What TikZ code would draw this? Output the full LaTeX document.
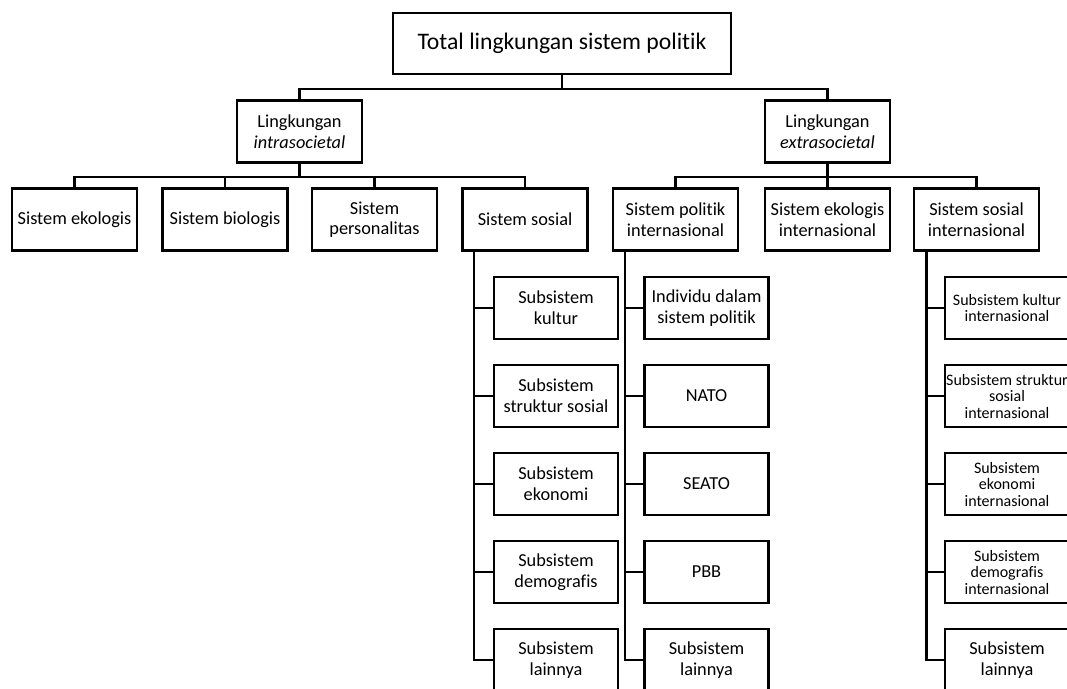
\documentclass[tikz,border=0pt]{standalone}
\usepackage{fontspec}
\setmainfont{Carlito}[Ligatures=NoCommon]

\begin{document}
\begin{tikzpicture}[x=1pt,y=-1pt,
    box/.style={draw,line width=2.5pt,align=center,inner sep=1pt,
      minimum width=125,minimum height=62,font=\fontsize{18.3}{20.7}\selectfont},
    subbox/.style={box,minimum width=124},
    small/.style={font=\fontsize{16}{16.5}\selectfont},
    link/.style={line width=2.5pt}]
    \useasboundingbox (0,0) rectangle (1067,688);
    \clip (0,0) rectangle (1067,688);
    % top and the two environments
    \node[box,minimum width=338,minimum height=61,font=\fontsize{23.7}{28}\selectfont] (T) at (562,43.5) {Total lingkungan sistem politik};
    \node[box] (L1) at (299.5,131.5) {Lingkungan\\\textit{intrasocietal}};
    \node[box] (L2) at (827.5,131.5) {Lingkungan\\\textit{extrasocietal}};
    \draw[link] (T.south) -- ++(0,13.5) -| (L1.north);
    \draw[link] (T.south) -- ++(0,13.5) -| (L2.north);
    % systems
    \node[box] (S1) at (74.5,219.7) {Sistem ekologis};
    \node[box] (S2) at (225,219.7) {Sistem biologis};
    \node[box] (S3) at (374.5,219.7) {Sistem\\personalitas};
    \node[box] (S4) at (525,219.7) {Sistem sosial};
    \node[box] (S5) at (675.5,219.7) {Sistem politik\\internasional};
    \node[box] (S6) at (827.5,219.7) {Sistem ekologis\\internasional};
    \node[box] (S7) at (976.5,219.7) {Sistem sosial\\internasional};
    \draw[link] (L1.south) -- ++(0,13) -| (S1.north);
    \draw[link] (L1.south) -- ++(0,13) -| (S2.north);
    \draw[link] (L1.south) -- ++(0,13) -| (S3.north);
    \draw[link] (L1.south) -- ++(0,13) -| (S4.north);
    \draw[link] (L2.south) -- ++(0,13) -| (S5.north);
    \draw[link] (L2.south) -- ++(0,13) -| (S6.north);
    \draw[link] (L2.south) -- ++(0,13) -| (S7.north);
    % subsystems of the social system
    \node[subbox] (A1) at (556,308) {Subsistem\\kultur};
    \node[subbox] (A2) at (556,396) {Subsistem\\struktur sosial};
    \node[subbox] (A3) at (556,484) {Subsistem\\ekonomi};
    \node[subbox] (A4) at (556,572) {Subsistem\\demografis};
    \node[subbox] (A5) at (556,660) {Subsistem\\lainnya};
    \draw[link] (S4.south west) ++(12.5,0) |- (A1.west);
    \draw[link] (S4.south west) ++(12.5,0) |- (A2.west);
    \draw[link] (S4.south west) ++(12.5,0) |- (A3.west);
    \draw[link] (S4.south west) ++(12.5,0) |- (A4.west);
    \draw[link] (S4.south west) ++(12.5,0) |- (A5.west);
    % international political system
    \node[subbox] (B1) at (706.5,308) {Individu dalam\\sistem politik};
    \node[subbox] (B2) at (706.5,396) {NATO};
    \node[subbox] (B3) at (706.5,484) {SEATO};
    \node[subbox] (B4) at (706.5,572) {PBB};
    \node[subbox] (B5) at (706.5,660) {Subsistem\\lainnya};
    \draw[link] (S5.south west) ++(13,0) |- (B1.west);
    \draw[link] (S5.south west) ++(13,0) |- (B2.west);
    \draw[link] (S5.south west) ++(13,0) |- (B3.west);
    \draw[link] (S5.south west) ++(13,0) |- (B4.west);
    \draw[link] (S5.south west) ++(13,0) |- (B5.west);
    % international social system
    \node[subbox,small] (C1) at (1007,308) {Subsistem kultur\\internasional};
    \node[subbox,small] (C2) at (1007,396) {Subsistem struktur\\sosial\\internasional};
    \node[subbox,small] (C3) at (1007,484) {Subsistem\\ekonomi\\internasional};
    \node[subbox,small] (C4) at (1007,572) {Subsistem\\demografis\\internasional};
    \node[subbox] (C5) at (1007,660) {Subsistem\\lainnya};
    \draw[link] (S7.south west) ++(13.5,0) |- (C1.west);
    \draw[link] (S7.south west) ++(13.5,0) |- (C2.west);
    \draw[link] (S7.south west) ++(13.5,0) |- (C3.west);
    \draw[link] (S7.south west) ++(13.5,0) |- (C4.west);
    \draw[link] (S7.south west) ++(13.5,0) |- (C5.west);
\end{tikzpicture}
\end{document}
